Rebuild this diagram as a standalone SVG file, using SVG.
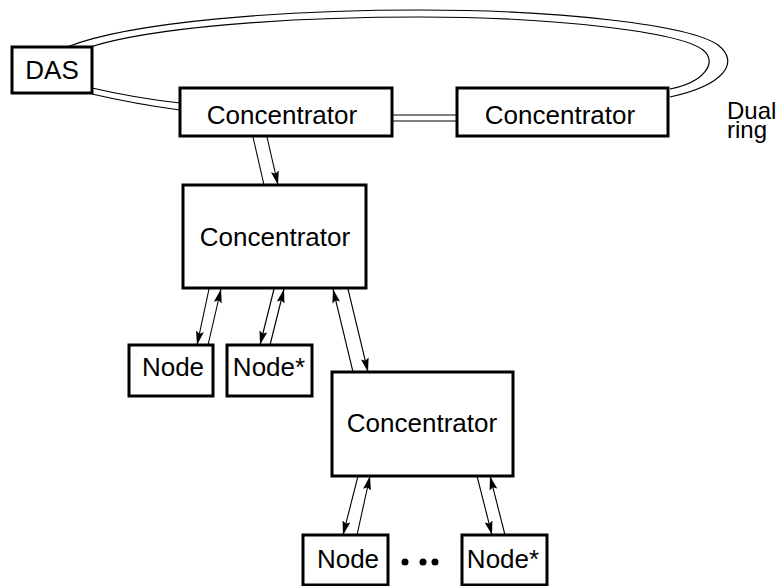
<svg xmlns="http://www.w3.org/2000/svg" width="784" height="586" viewBox="0 0 784 586">
<style>
.box{fill:#fff;stroke:#000;stroke-width:3}
.lbl{font-family:"Liberation Sans",Arial,sans-serif;font-size:26px;fill:#000;text-anchor:middle}
.side{font-family:"Liberation Sans",Arial,sans-serif;font-size:24px;fill:#000}
.ring{fill:none;stroke:#000;stroke-width:1.2}
.ln{fill:none;stroke:#000;stroke-width:1.1}
.arr{fill:none;stroke:#000;stroke-width:1.1;marker-end:url(#ah)}
</style>
<defs>
<marker id="ah" markerWidth="14" markerHeight="8" refX="14" refY="4" orient="auto" markerUnits="userSpaceOnUse">
<path d="M0,0 L14,4 L0,8 L2.5,4 z" fill="#000"/>
</marker>
</defs>
<rect width="784" height="586" fill="#fff"/>
<g id="connectors">
<path class="ring" d="M67,47 C130,22 280,10 420,10 C560,10 690,25 718,45 C740,62 725,85 670,97"/>
<path class="ring" d="M90,47 C150,28 280,17 420,17 C555,17 680,32 703,50 C718,62 705,82 670,89"/>
<path class="ring" d="M92,88 Q135,98 180,103"/>
<path class="ring" d="M92,94 Q135,104 180,110"/>
<line class="ring" x1="392" y1="115" x2="457" y2="115"/>
<line class="ring" x1="392" y1="121" x2="457" y2="121"/>
<line class="ln" x1="253" y1="137" x2="264" y2="185"/>
<line class="arr" x1="267" y1="137" x2="278" y2="185"/>
<line class="arr" x1="209" y1="289" x2="197" y2="345"/>
<line class="arr" x1="208" y1="345" x2="221" y2="289"/>
<line class="arr" x1="274" y1="289" x2="260" y2="345"/>
<line class="arr" x1="270" y1="345" x2="284" y2="289"/>
<line class="arr" x1="353" y1="372" x2="333" y2="289"/>
<line class="arr" x1="348" y1="289" x2="368" y2="372"/>
<line class="arr" x1="358" y1="476" x2="343" y2="535"/>
<line class="arr" x1="357" y1="535" x2="370" y2="476"/>
<line class="arr" x1="477" y1="476" x2="492" y2="535"/>
<line class="arr" x1="505" y1="535" x2="490" y2="476"/>
</g>
<g id="das">
<rect class="box" x="12" y="47" width="80" height="46"/>
<text class="lbl" x="52" y="79">DAS</text>
</g>
<g id="conc1">
<rect class="box" x="180" y="88" width="212" height="48"/>
<text class="lbl" x="282" y="124">Concentrator</text>
</g>
<g id="conc2">
<rect class="box" x="457" y="88" width="211" height="48"/>
<text class="lbl" x="560" y="124">Concentrator</text>
</g>
<g id="dualring">
<text class="side" x="727" y="119">Dual</text>
<text class="side" x="727" y="138">ring</text>
</g>
<g id="conc3">
<rect class="box" x="183" y="185" width="183" height="103"/>
<text class="lbl" x="275" y="246">Concentrator</text>
</g>
<g id="node1">
<rect class="box" x="129" y="345" width="84" height="51"/>
<text class="lbl" x="173" y="376">Node</text>
</g>
<g id="nodestar1">
<rect class="box" x="227" y="345" width="85" height="51"/>
<text class="lbl" x="269" y="376">Node*</text>
</g>
<g id="conc4">
<rect class="box" x="332" y="372" width="181" height="104"/>
<text class="lbl" x="422" y="432">Concentrator</text>
</g>
<g id="node2">
<rect class="box" x="303" y="535" width="85" height="50"/>
<text class="lbl" x="348" y="568">Node</text>
</g>
<g id="dots">
<circle cx="405" cy="562" r="3.5" fill="#000"/>
<circle cx="423" cy="562" r="3.5" fill="#000"/>
<circle cx="435" cy="562" r="3.5" fill="#000"/>
</g>
<g id="nodestar2">
<rect class="box" x="462" y="535" width="85" height="50"/>
<text class="lbl" x="503" y="568">Node*</text>
</g>
</svg>
